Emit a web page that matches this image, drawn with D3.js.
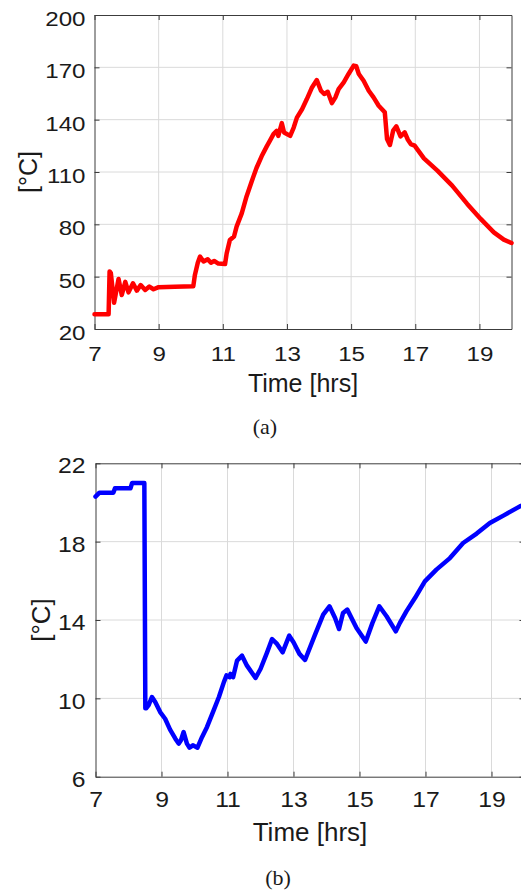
<!DOCTYPE html>
<html>
<head>
<meta charset="utf-8">
<script src="https://cdn.jsdelivr.net/npm/d3@7"></script>
<style>
  html, body { margin: 0; padding: 0; background: #fff; }
  svg { display: block; }
  .tick text { font-family: "Liberation Sans", Arial, Helvetica, sans-serif; fill: #1a1a1a; }
  .title { font-family: "Liberation Sans", Arial, Helvetica, sans-serif; fill: #1a1a1a; }
  .caption { font-family: "Liberation Serif", "Times New Roman", serif; fill: #1a1a1a; }
</style>
</head>
<body>
<script>
// Panel (a): collector temperature over the day
const collectorHours = [7.0, 7.44, 7.47, 7.51, 7.61, 7.75, 7.85, 7.96, 8.06, 8.20, 8.32, 8.44, 8.58, 8.71, 8.84, 9.0, 9.5, 10.08, 10.13, 10.22, 10.29, 10.40, 10.53, 10.63, 10.73, 10.86, 11.07, 11.12, 11.22, 11.35, 11.43, 11.59, 11.74, 11.90, 12.05, 12.21, 12.37, 12.47, 12.58, 12.68, 12.73, 12.84, 12.91, 13.10, 13.21, 13.31, 13.47, 13.62, 13.78, 13.93, 14.06, 14.16, 14.27, 14.40, 14.51, 14.61, 14.77, 14.92, 15.08, 15.16, 15.24, 15.39, 15.55, 15.70, 15.86, 16.05, 16.12, 16.21, 16.31, 16.41, 16.54, 16.67, 16.77, 16.86, 16.98, 17.27, 17.69, 18.15, 18.62, 19.04, 19.45, 19.76, 20.0];
const collectorTemp = [28.5, 28.5, 53, 52, 35, 48.7, 39.5, 47, 41, 46.2, 42, 45.2, 42.4, 44.3, 42.8, 44, 44.2, 44.5, 51, 58, 61.5, 58.7, 60, 58, 59, 57.5, 57.2, 63.3, 71, 73, 78.7, 86.3, 96, 104.6, 112.3, 119, 124.7, 128, 131.7, 133.6, 130.7, 138, 132.6, 130.7, 135.5, 141.2, 146, 151.8, 158.5, 162.7, 156.6, 154.7, 156, 149.5, 152.8, 157.5, 161.4, 166.2, 171, 170.6, 166.2, 162.3, 156.6, 152.8, 148, 144.2, 128.9, 125.5, 133.7, 136.2, 130.4, 132.7, 128.5, 126, 125.1, 117.8, 110.8, 102.2, 91.7, 83.1, 75.4, 71.2, 69.3];

// Panel (b): room temperature over the day
const roomHours = [7.0, 7.12, 7.54, 7.59, 8.06, 8.11, 8.48, 8.51, 8.54, 8.61, 8.71, 8.81, 8.96, 9.11, 9.26, 9.42, 9.52, 9.59, 9.67, 9.77, 9.85, 9.95, 10.09, 10.23, 10.38, 10.58, 10.74, 10.89, 10.97, 11.07, 11.09, 11.17, 11.29, 11.44, 11.59, 11.85, 12.0, 12.2, 12.35, 12.5, 12.67, 12.87, 13.0, 13.18, 13.35, 13.65, 13.9, 14.09, 14.26, 14.38, 14.5, 14.63, 14.91, 15.19, 15.39, 15.6, 15.82, 16.1, 16.22, 16.42, 16.68, 16.98, 17.33, 17.74, 18.14, 18.55, 18.95, 19.36, 19.86, 20.0];
const roomTemp = [20.3, 20.5, 20.5, 20.72, 20.72, 21.0, 21.0, 9.5, 9.5, 9.65, 10.07, 9.81, 9.3, 8.96, 8.4, 7.94, 7.69, 7.86, 8.28, 7.69, 7.48, 7.6, 7.48, 8.03, 8.54, 9.39, 10.07, 10.83, 11.17, 11.08, 11.25, 11.08, 11.93, 12.18, 11.67, 11.04, 11.5, 12.35, 13.03, 12.78, 12.35, 13.2, 12.86, 12.27, 11.96, 13.24, 14.27, 14.7, 14.1, 13.54, 14.36, 14.53, 13.59, 12.9, 13.84, 14.7, 14.19, 13.42, 13.84, 14.44, 15.12, 15.97, 16.57, 17.16, 17.93, 18.41, 18.95, 19.33, 19.8, 19.9];

// Tick labels
const hourTicks = [7, 9, 11, 13, 15, 17, 19];
const collectorTicks = [20, 50, 80, 110, 140, 170, 200];
const roomTicks = [6, 10, 14, 18, 22];

const xLabel = "Time [hrs]";
const yLabel = "[°C]";

const W = 521, H = 892;
const svg = d3.select("body").append("svg").attr("width", W).attr("height", H);

function panel(cfg) {
  const x = d3.scaleLinear().domain([7, 20]).range([cfg.left, cfg.right]);
  const y = d3.scaleLinear().domain(cfg.yDomain).range([cfg.bottom, cfg.top]);
  const g = svg.append("g");
  const stretch = 1.15;

  // grid
  g.append("g").selectAll("line").data(hourTicks.filter(d => d > 7)).join("line")
    .attr("x1", d => x(d)).attr("x2", d => x(d))
    .attr("y1", cfg.top).attr("y2", cfg.bottom)
    .attr("stroke", "#dadada").attr("stroke-width", 1);
  g.append("g").selectAll("line").data(cfg.yTicks.slice(1, -1)).join("line")
    .attr("x1", cfg.left).attr("x2", cfg.right)
    .attr("y1", d => y(d)).attr("y2", d => y(d))
    .attr("stroke", "#dadada").attr("stroke-width", 1);

  const styleAxis = sel => {
    sel.select(".domain").attr("stroke", "#3c3c3c").attr("stroke-width", 1);
    sel.selectAll(".tick line").attr("stroke", "#3c3c3c");
  };

  // bottom axis with labels
  const xb = g.append("g").attr("transform", `translate(0,${cfg.bottom})`)
    .call(d3.axisBottom(x).tickValues(hourTicks).tickFormat(d3.format("d"))
      .tickSizeInner(-5).tickSizeOuter(0).tickPadding(cfg.xPad))
    .call(styleAxis);
  xb.selectAll(".tick text").attr("font-size", cfg.tickFont)
    .attr("transform", `scale(${stretch},1)`);

  // top axis, ticks only
  g.append("g").attr("transform", `translate(0,${cfg.top})`)
    .call(d3.axisTop(x).tickValues(hourTicks).tickSizeInner(-5).tickSizeOuter(0).tickFormat(""))
    .call(styleAxis);

  // left axis with labels
  const yl = g.append("g").attr("transform", `translate(${cfg.left},0)`)
    .call(d3.axisLeft(y).tickValues(cfg.yTicks).tickFormat(d3.format("d"))
      .tickSizeInner(-5).tickSizeOuter(0).tickPadding(cfg.yPad))
    .call(styleAxis);
  yl.selectAll(".tick text").attr("font-size", cfg.tickFont)
    .attr("x", -cfg.yPad / stretch).attr("dy", cfg.yDy)
    .attr("transform", `scale(${stretch},1)`);

  // right axis, ticks only
  g.append("g").attr("transform", `translate(${cfg.right},0)`)
    .call(d3.axisRight(y).tickValues(cfg.yTicks).tickSizeInner(-5).tickSizeOuter(0).tickFormat(""))
    .call(styleAxis);

  // series
  const line = d3.line().x((d, i) => x(cfg.xs[i])).y(d => y(d));
  g.append("path").datum(cfg.ys)
    .attr("d", line)
    .attr("fill", "none")
    .attr("stroke", cfg.color)
    .attr("stroke-width", 4.5)
    .attr("stroke-linejoin", "round")
    .attr("stroke-linecap", "round");

  // axis titles
  g.append("text").attr("class", "title")
    .attr("x", (cfg.left + cfg.right) / 2).attr("y", cfg.xTitleY)
    .attr("text-anchor", "middle").attr("font-size", cfg.titleFont)
    .text(xLabel);
  g.append("text").attr("class", "title")
    .attr("transform", `translate(${cfg.yTitleX},${(cfg.top + cfg.bottom) / 2}) rotate(-90)`)
    .attr("text-anchor", "middle").attr("font-size", cfg.titleFont)
    .text(yLabel);

  // caption
  g.append("text").attr("class", "caption")
    .attr("x", cfg.capX).attr("y", cfg.capY)
    .attr("text-anchor", "middle").attr("font-size", 22)
    .text(cfg.caption);
}

panel({
  left: 94.5, right: 511.5, top: 15, bottom: 329,
  yDomain: [20, 200], yTicks: collectorTicks,
  xs: collectorHours, ys: collectorTemp, color: "#ff0000",
  tickFont: 21, titleFont: 25, xPad: 17, yPad: 9, yDy: "0.5em",
  xTitleY: 391.5, yTitleX: 36.5,
  capX: 265, capY: 434, caption: "(a)"
});

panel({
  left: 95.5, right: 524.5, top: 463.3, bottom: 776.7,
  yDomain: [6, 22], yTicks: roomTicks,
  xs: roomHours, ys: roomTemp, color: "#0000ff",
  tickFont: 21.5, titleFont: 26, xPad: 15, yPad: 10, yDy: "0.45em",
  xTitleY: 840.5, yTitleX: 50,
  capX: 278, capY: 885, caption: "(b)"
});
</script>
</body>
</html>
